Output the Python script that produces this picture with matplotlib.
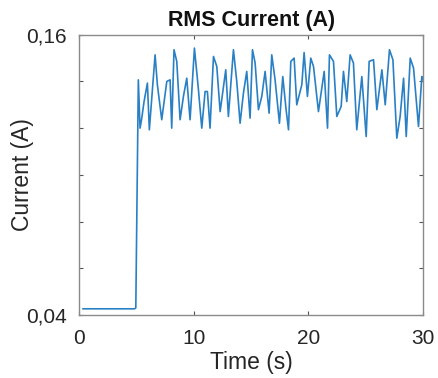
import matplotlib
matplotlib.use("Agg")
import matplotlib.pyplot as plt

plt.rcParams['font.family'] = ['Liberation Sans', 'DejaVu Sans']

time_s = [0.35, 4.85, 4.95, 5.17, 5.32, 5.47, 5.67, 5.96, 6.13, 6.63, 6.83, 7.21, 7.65, 7.94,
          8.08, 8.28, 8.52, 8.81, 9.10, 9.39, 9.68, 10.06, 10.41, 10.70, 10.99, 11.19,
          11.42, 11.72, 12.01, 12.30, 12.79, 13.02, 13.46, 13.75, 14.04, 14.33, 14.62,
          14.91, 15.12, 15.35, 15.64, 15.93, 16.22, 16.57, 16.80, 17.09, 17.47, 17.76,
          18.05, 18.26, 18.46, 18.75, 18.98, 19.42, 19.62, 19.91, 20.20, 20.44, 20.87,
          21.37, 21.66, 21.83, 22.18, 22.47, 22.85, 23.05, 23.34, 23.63, 23.92, 24.21,
          24.65, 25.03, 25.29, 25.67, 25.96, 26.40, 26.69, 27.06, 27.36, 27.70, 27.99,
          28.29, 28.52, 28.87, 29.16, 29.59, 29.88, 30.0]
current_a = [0.0426, 0.0426, 0.0430, 0.1407, 0.1200, 0.1243, 0.1314, 0.1393, 0.1193, 0.1514,
             0.1386, 0.1236, 0.1400, 0.1407, 0.1200, 0.1536, 0.1486, 0.1236, 0.1336, 0.1414,
             0.1236, 0.1543, 0.1364, 0.1200, 0.1357, 0.1357, 0.1200, 0.1507, 0.1464, 0.1271,
             0.1450, 0.1250, 0.1536, 0.1400, 0.1221, 0.1350, 0.1443, 0.1243, 0.1536, 0.1479,
             0.1279, 0.1336, 0.1443, 0.1264, 0.1514, 0.1407, 0.1221, 0.1421, 0.1279, 0.1193,
             0.1486, 0.1500, 0.1300, 0.1386, 0.1524, 0.1336, 0.1500, 0.1464, 0.1271, 0.1443,
             0.1200, 0.1514, 0.1486, 0.1250, 0.1293, 0.1443, 0.1314, 0.1514, 0.1479, 0.1193,
             0.1421, 0.1164, 0.1486, 0.1493, 0.1279, 0.1450, 0.1300, 0.1536, 0.1493, 0.1157,
             0.1250, 0.1414, 0.1164, 0.1500, 0.1457, 0.1207, 0.1421, 0.1407]

xticks = [0, 10, 20, 30]
yticks = [0.04, 0.06, 0.08, 0.10, 0.12, 0.14, 0.16]
ytick_labels = ['0,04', '', '', '', '', '', '0,16']

fig = plt.figure(figsize=(4.39, 3.78), dpi=100)
ax = fig.add_axes([0.180, 0.167, 0.784, 0.741])
ax.plot(time_s, current_a, color='#2a80c4', lw=1.2, solid_joinstyle='round')
ax.set_xlim(0, 30)
ax.set_ylim(0.04, 0.16)
ax.set_xticks(xticks)
ax.set_yticks(yticks)
ax.set_yticklabels(ytick_labels)
ax.tick_params(direction='in', length=3, width=0.8, color='#555555',
               labelsize=15, labelcolor='#262626', top=True, right=True, pad=9)
ax.tick_params(axis='x', pad=10)
for s in ax.spines.values():
    s.set_color('#8a8a8a')
    s.set_linewidth(1.0)
ax.set_title('RMS Current (A)', fontsize=15.5, fontweight='bold', color='#111111', pad=6)
ax.set_xlabel('Time (s)', fontsize=16.5, color='#262626', labelpad=2)
ax.set_ylabel('Current (A)', fontsize=16.5, color='#262626')
ax.yaxis.set_label_coords(-0.13, 0.5)
fig.savefig('out.png', dpi=100)
